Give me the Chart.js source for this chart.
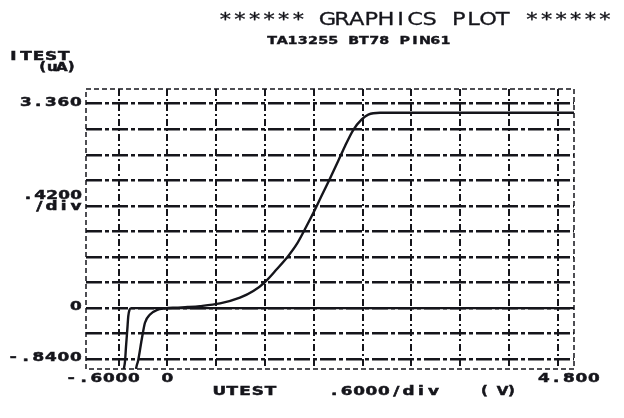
<!DOCTYPE html>
<html>
<head>
<meta charset="utf-8">
<script src="https://cdn.jsdelivr.net/npm/chart.js@4/dist/chart.umd.min.js"></script>
<style>
  html, body { margin: 0; padding: 0; background: #ffffff; }
  #wrap { width: 624px; height: 418px; }
</style>
</head>
<body>
<div id="wrap"><canvas id="c" width="624" height="418"></canvas></div>
<script>
// ---- data ----
const titleText = '****** GRAPHICS PLOT ******';
const subtitleText = 'TA13255 BT78 PIN61';
const yAxisName = ['ITEST', '(uA)'];
const yDivText = ['.4200', '/div'];
const xAxisName = 'UTEST';
const xDivText = '.6000/div';
const xUnitText = '( V)';

// grid positions (tick values)
const xGridValues = [-0.6, 0, 0.6, 1.2, 1.8, 2.4, 3.0, 3.6, 4.2, 4.8];
const yGridValues = [-0.84, -0.42, 0, 0.42, 0.84, 1.26, 1.68, 2.10, 2.52, 2.94, 3.36];

// labelled ticks
const xTickValues = [-0.6, 0, 4.8];
const xTickLabels = ['-.6000', '0', '4.800'];
const yTickValues = [3.36, 0, -0.84];
const yTickLabels = ['3.360', '0', '-.8400'];

// curve A (steep breakdown near -0.5 V, then flat at 0)
const curveAX = [-0.535, -0.52, -0.508, -0.492, -0.48, -0.465, -0.445, 5.0];
const curveAY = [-1.0, -0.87, -0.63, -0.35, -0.13, -0.03, 0.0, 0.0];

// curve B (main sweep)
const curveBX = [-0.385, -0.377, -0.361, -0.315, -0.275, -0.213, -0.131, -0.029, 0.10, 0.25, 0.402, 0.648, 0.893, 1.057, 1.201, 1.345, 1.487, 1.591, 1.693, 1.816, 1.898, 2.000, 2.102, 2.184, 2.287, 2.390, 2.471, 2.615, 5.0];
const curveBY = [-1.0, -0.945, -0.874, -0.516, -0.24, -0.104, -0.033, -0.005, 0.008, 0.018, 0.033, 0.077, 0.171, 0.280, 0.429, 0.638, 0.857, 1.050, 1.300, 1.620, 1.850, 2.130, 2.420, 2.660, 2.930, 3.100, 3.180, 3.210, 3.210];

// ---- styling ----
const INK = '#15151b';
const FONT = '"DejaVu Sans", "Liberation Sans", sans-serif';

function toPoints(xs, ys) { return xs.map((x, i) => ({ x: x, y: ys[i] })); }

// draw text as fixed-pitch, horizontally stretched plotter-like characters
function drawMono(ctx, text, left, cy, pitch, size, sx, weight, stroke) {
  ctx.save();
  ctx.fillStyle = INK;
  ctx.strokeStyle = INK;
  ctx.lineWidth = stroke || 0;
  ctx.font = (weight || 'bold') + ' ' + size + 'px ' + FONT;
  ctx.textAlign = 'center';
  ctx.textBaseline = 'middle';
  for (let i = 0; i < text.length; i++) {
    const ch = text[i];
    if (ch === ' ') continue;
    ctx.save();
    ctx.translate(left + (i + 0.5) * pitch, cy);
    ctx.scale(sx, 1);
    ctx.fillText(ch, 0, 0);
    if (stroke) ctx.strokeText(ch, 0, 0);
    ctx.restore();
  }
  ctx.restore();
}

const decor = {
  id: 'decor',
  beforeDatasetsDraw(chart) {
    const ctx = chart.ctx, a = chart.chartArea;
    ctx.save();
    ctx.strokeStyle = INK;
    ctx.lineWidth = 1.5;
    ctx.setLineDash([5, 3]);
    ctx.strokeRect(a.left, a.top, a.right - a.left, a.bottom - a.top);
    ctx.restore();
  },
  afterDraw(chart) {
    const ctx = chart.ctx, a = chart.chartArea;
    const xs = chart.scales.x, ys = chart.scales.y;
    const S = 12, SX = 1.4, ST = 0.5;
    // title + subtitle
    drawMono(ctx, titleText, 218, 20, 14.6, 18, 1.25, 'normal', 0.3);
    drawMono(ctx, subtitleText, 267, 41, 10.2, 11, 1.3, 'bold', 0.4);
    // y axis name
    drawMono(ctx, yAxisName[0], 7, 57, 12.6, S, SX, 'bold', ST);
    drawMono(ctx, yAxisName[1], 38, 68, 9.5, S, 1.25, 'bold', ST);
    // y tick labels (right aligned to plot box)
    const pitch = 12.5;
    yTickLabels.forEach((t, i) => {
      const right = a.left - 4;
      drawMono(ctx, t, right - t.length * pitch, ys.getPixelForValue(yTickValues[i]) - 1, pitch, S, SX, 'bold', ST);
    });
    // per-div label on y
    drawMono(ctx, yDivText[0], a.left - 4 - 5 * 12, 196, 12, S, SX, 'bold', ST);
    drawMono(ctx, yDivText[1], a.left - 4 - 4 * 12.2, 207, 12.2, S, SX, 'bold', ST);
    // x tick labels
    const xOffsets = [-16, 0, 11];
    xTickLabels.forEach((t, i) => {
      const cx = xs.getPixelForValue(xTickValues[i]) + xOffsets[i];
      drawMono(ctx, t, cx - t.length * pitch / 2, 379, pitch, S, SX, 'bold', ST);
    });
    // x axis name, per-div, unit
    drawMono(ctx, xAxisName, 213, 392, 12.8, S, SX, 'bold', ST);
    drawMono(ctx, xDivText, 328, 392, 12.4, S, SX, 'bold', ST);
    drawMono(ctx, xUnitText, 480, 392, 9, S, 1.25, 'bold', ST);
  }
};

new Chart(document.getElementById('c'), {
  type: 'scatter',
  data: {
    datasets: [
      { data: toPoints(curveAX, curveAY), showLine: true, borderColor: INK, borderWidth: 2.4, pointRadius: 0, cubicInterpolationMode: 'monotone' },
      { data: toPoints(curveBX, curveBY), showLine: true, borderColor: INK, borderWidth: 2.4, pointRadius: 0, cubicInterpolationMode: 'monotone' }
    ]
  },
  options: {
    responsive: false,
    devicePixelRatio: 1,
    animation: false,
    layout: { padding: { left: 86, right: 50, top: 89, bottom: 49 } },
    plugins: { legend: { display: false }, tooltip: { enabled: false } },
    scales: {
      x: {
        type: 'linear', min: -1.0, max: 5.0,
        afterBuildTicks: (s) => { s.ticks = xGridValues.map(v => ({ value: v })); },
        ticks: { display: false },
        grid: { color: INK, lineWidth: 2, drawTicks: false },
        border: { display: false, dash: [7, 3, 2, 3] }
      },
      y: {
        type: 'linear', min: -1.0, max: 3.6,
        afterBuildTicks: (s) => { s.ticks = yGridValues.map(v => ({ value: v })); },
        ticks: { display: false },
        grid: { color: INK, lineWidth: 2.4, drawTicks: false },
        border: { display: false, dash: [16, 3, 4, 3] }
      }
    }
  },
  plugins: [decor]
});
</script>
</body>
</html>
